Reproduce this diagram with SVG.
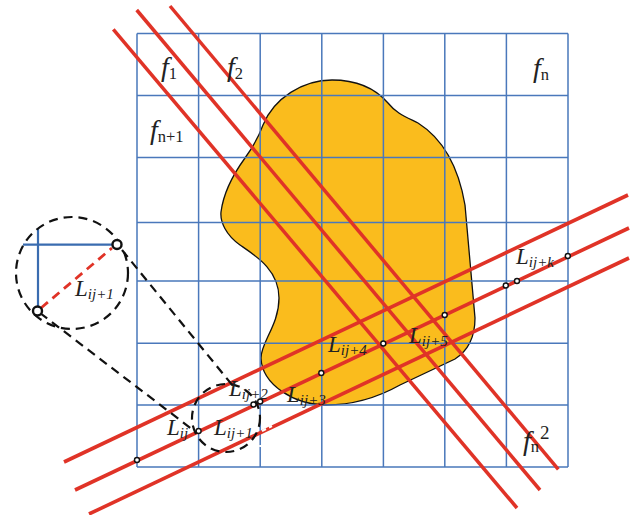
<svg xmlns="http://www.w3.org/2000/svg" width="632" height="515" viewBox="0 0 632 515">
<style>
.g{stroke:#4a78bb;stroke-width:1.5;fill:none}
.r{stroke:#e03327;stroke-width:3.6;fill:none}
.q{stroke:#e03327;stroke-width:3.5;fill:none}
.d{stroke:#111;stroke-width:2.2;fill:none;stroke-dasharray:9 6}
.p{fill:#fff;stroke:#111;stroke-width:1.4}
.t{font-family:"Liberation Serif",serif;font-style:italic;font-size:23px;fill:#222}
.t tspan{font-size:15px}
.f{font-family:"Liberation Serif",serif;font-style:italic;font-size:28px;fill:#222}
.f tspan{font-family:"Liberation Serif",serif;font-style:normal;font-size:16.5px}
</style>
<g id="shape">
<path d="M332 80C355 80 375 88 388 103C396 113 404 116 418 123C445 140 459 170 465 205L475 318C475 335 469 350 455 359L400 385C375 399 350 405 326 405C295 405 262 385 261 358C261 342 279 325 279 298C279 270 256 256 240 245C226 235 220 222 221 212C223 196 232 176 245 158C253 147 259 136 263 125C274 98 303 80 332 80Z" fill="#fabc1d" stroke="#111" stroke-width="1.3"/>
</g>
<g id="grid">
<path class="g" d="M137 33.5H568M137 95.5H568M137 157.5H568M137 222.5H568M137 281H568M137 343.2H568M137 405H568M137 467H568"/>
<path class="g" d="M137 33.5V467M198.6 33.5V467M260.2 33.5V467M321.8 33.5V467M383.4 33.5V467M444.8 33.5V467M506.4 33.5V467M568 33.5V467"/>
</g>
<g id="connectors">
<path class="r" d="M64 462L628 195"/>
<path class="r" d="M75 490L629 228"/>
<path class="r" d="M89 514L629 258"/>
<path class="q" d="M113.300 29.300L517 508"/>
<path class="q" d="M136.700 10L540 490"/>
<path class="q" d="M170 6L558.300 469.300"/>
<path d="M262 431L266 429M269 427.500L272 426M260.200 445V447" stroke="#fff" stroke-width="2" fill="none"/>
<path class="d" d="M122 250L233 386"/>
<path class="d" d="M40 313L197 433"/>
<path d="M38 228V311M23 244.700H117" stroke="#3a6cb0" stroke-width="2.2" fill="none"/>
<path d="M41 308L112 248" stroke="#e03327" stroke-width="2.8" fill="none" stroke-dasharray="9 6"/>
</g>
<g id="zoom-large">
<circle class="d" cx="72" cy="273" r="56"/>
<circle cx="117" cy="244.500" r="4.500" fill="#fff" stroke="#111" stroke-width="2.400"/>
<circle cx="37.500" cy="311" r="4.500" fill="#fff" stroke="#111" stroke-width="2.400"/>
</g>
<g id="zoom-small">
<circle class="d" cx="226" cy="418" r="34"/>
</g>
<g id="points">
<circle class="p" cx="137" cy="460" r="2.500"/>
<circle class="p" cx="198.600" cy="431" r="2.500"/>
<circle class="p" cx="253.500" cy="404.500" r="2.500"/>
<circle class="p" cx="260.200" cy="401.500" r="2.500"/>
<circle class="p" cx="321.300" cy="373" r="2.500"/>
<circle class="p" cx="383.300" cy="343.500" r="2.500"/>
<circle class="p" cx="444.700" cy="315" r="2.500"/>
<circle class="p" cx="505.800" cy="285.500" r="2.500"/>
<circle class="p" cx="517" cy="281" r="2.500"/>
<circle class="p" cx="567.800" cy="256" r="2.500"/>
</g>
<g id="labels">
<text class="f" x="161" y="76">f<tspan dy="3">1</tspan></text>
<text class="f" x="227" y="76">f<tspan dy="3">2</tspan></text>
<text class="f" x="533" y="77">f<tspan dy="3">n</tspan></text>
<text class="f" x="150" y="139">f<tspan dy="3">n+1</tspan></text>
<text class="f" x="523" y="450">f<tspan dy="2">n</tspan></text>
<text x="540" y="439" font-family="Liberation Serif,serif" font-size="19" fill="#222">2</text>
<text class="t" x="75" y="296">L<tspan dy="3">ij+1</tspan></text>
<text class="t" x="167" y="435">L<tspan dy="3">ij</tspan></text>
<text class="t" x="214" y="435">L<tspan dy="3">ij+1</tspan></text>
<text class="t" x="229" y="396">L<tspan dy="3">ij+2</tspan></text>
<text class="t" x="287" y="402">L<tspan dy="3">ij+3</tspan></text>
<text class="t" x="328" y="352">L<tspan dy="3">ij+4</tspan></text>
<text class="t" x="409" y="343">L<tspan dy="3">ij+5</tspan></text>
<text class="t" x="516" y="264">L<tspan dy="3">ij+k</tspan></text>
</g>
</svg>
